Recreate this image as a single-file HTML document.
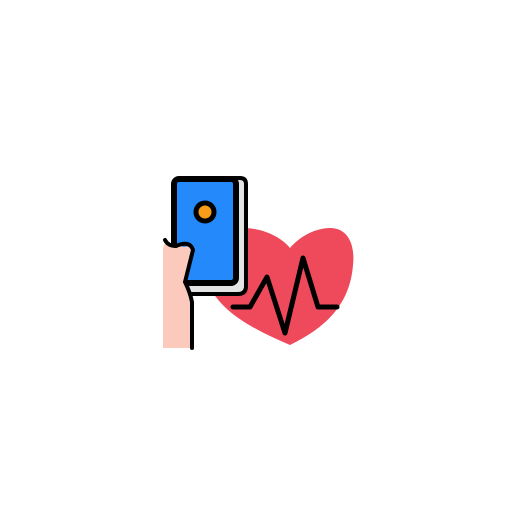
<!DOCTYPE html>
<html><head><style>html,body{margin:0;padding:0;background:#fff}svg{display:block}</style></head>
<body>
<svg width="512" height="512" viewBox="0 0 512 512">
<path d="M290 345 C250 328 205 305 205 265 C205 240 222 228 243 228 C264 228 282 238 290 248 C300 236 316 228 330 228 C350 228 355 248 353 265 C350 305 325 328 290 345 Z" fill="#ee4a5b"/>
<path d="M186 178 H240 Q246 178 246 184 V286 Q246 294 238 294 H192 Q186 294 186 288 Z" fill="#e4e4e4" stroke="#000" stroke-width="4"/>
<rect x="174" y="179" width="62" height="104" rx="5" fill="#2489fb" stroke="#000" stroke-width="6"/>
<circle cx="205" cy="212" r="9" fill="#f89b18" stroke="#000" stroke-width="5"/>
<path d="M163 348 V250 Q163 240 172 244 L184 247 Q194 244 193 255 L185 282 Q188 292 192 300 V348 Z" fill="#fccabd"/>
<path d="M165 240 Q168 246 176 246 Q190 240 193 250 L185 282 Q190 292 192 302 V348" fill="none" stroke="#000" stroke-width="4" stroke-linecap="round"/>
<polyline points="233,307 250,307 267,277 285,333 303,258 318,307 337,307" fill="none" stroke="#000" stroke-width="5" stroke-linejoin="round" stroke-linecap="round"/>
</svg>
</body></html>
